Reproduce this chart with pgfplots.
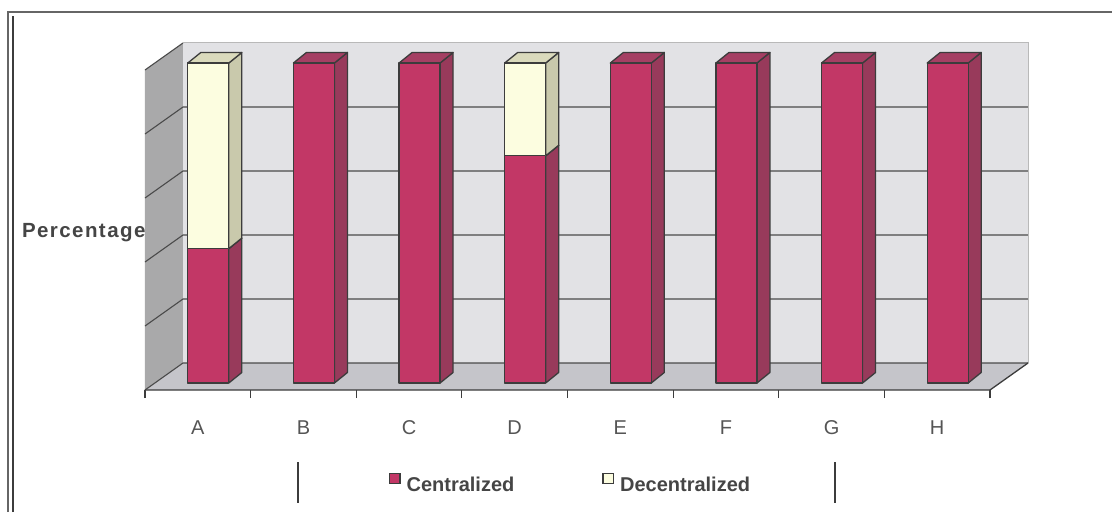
\documentclass[border=0pt]{standalone}
\usepackage{pgfplots}
\pgfplotsset{compat=1.18}
\usepackage{pgfplotstable}
\usepackage{fontspec}
\setmainfont{Liberation Sans}
\newfontfamily\spacedbold[LetterSpace=7]{Liberation Sans Bold}

\definecolor{cenfront}{HTML}{C23766}
\definecolor{censide}{HTML}{983A5B}
\definecolor{centop}{HTML}{A53F63}
\definecolor{decfront}{HTML}{FCFDE0}
\definecolor{decside}{HTML}{C9C9AC}
\definecolor{dectop}{HTML}{DADABC}
\definecolor{edge}{HTML}{3C3C3C}
\definecolor{backwall}{HTML}{E2E2E5}
\definecolor{sidewall}{HTML}{A9A9AA}
\definecolor{floorgray}{HTML}{C5C5CA}
\definecolor{gridgray}{HTML}{4A4A4A}
\definecolor{labelgray}{HTML}{555555}
\definecolor{legendgray}{HTML}{454545}

% centralized share per case (percent), bars start on the floor
\pgfplotstableread{
x base h
0 0 42
1 0 100
2 0 100
3 0 71
4 0 100
5 0 100
6 0 100
7 0 100
}\centralized

% decentralized share, stacked on top of the centralized part
\pgfplotstableread{
x base h
0 42 58
3 71 29
}\decentralized

\tikzset{
  bar colors/.style n args={3}{
    /tikz/front face/.style={fill=#1, draw=edge, line width=1.3pt, line join=round},
    /tikz/side face/.style={fill=#2, draw=edge, line width=1.3pt, line join=round},
    /tikz/top face/.style={fill=#3, draw=edge, line width=1.3pt, line join=round},
  },
}

% a bar segment drawn as a box: front face 41pt wide, set 10.5pt/7pt into
% the floor, receding 13pt right and 10.5pt up; height \boxh in y units
\pgfdeclareplotmark{bar3d}{%
  \path[side face] (31pt,7pt) -- ++(13pt,10.5pt)
    -- ([shift={(44pt,17.5pt)}]axis direction cs:0,\boxh)
    -- ([shift={(31pt,7pt)}]axis direction cs:0,\boxh) -- cycle;
  \path[top face] ([shift={(-10pt,7pt)}]axis direction cs:0,\boxh)
    -- ++(41pt,0pt) -- ++(13pt,10.5pt) -- ++(-41pt,0pt) -- cycle;
  \path[front face] (-10pt,7pt) rectangle ([shift={(31pt,7pt)}]axis direction cs:0,\boxh);
}

\begin{document}
\begin{tikzpicture}[x=1pt,y=1pt]
\useasboundingbox (-145,-122) rectangle (967,390);
\begin{axis}[
  at={(0,0)}, anchor=south west,
  scale only axis, width=845pt, height=320pt,
  xmin=-0.5, xmax=7.5, ymin=0, ymax=100,
  clip=false,
  axis line style={draw=none},
  ytick=\empty,
  xtick={0,...,7}, xticklabels={A,B,C,D,E,F,G,H},
  major tick length=0pt,
  minor xtick={-0.5,0.5,...,7.5},
  minor tick length=8pt, tick align=outside, xtick pos=left,
  minor tick style={draw=edge, line width=1.2pt},
  xticklabel style={font=\fontsize{20}{24}\selectfont, text=labelgray,
    inner sep=0pt, text height=14.4pt, text depth=0pt, anchor=north, yshift=-30pt},
  legend columns=2,
  legend style={draw=none, fill=none, at={(0.5024,-0.2906)}, anchor=center,
    font=\bfseries\fontsize{20}{24}\selectfont, text=legendgray,
    nodes={inner sep=0pt}, column sep=6pt,
    /tikz/every even column/.append style={column sep=88pt}},
]
% back wall, side wall and floor
\fill[backwall] ([shift={(38pt,27pt)}]axis cs:-0.5,0) rectangle ([shift={(38pt,27pt)}]axis cs:7.5,100);
\fill[sidewall] (axis cs:-0.5,0) -- (axis cs:-0.5,100) -- ([shift={(38pt,27pt)}]axis cs:-0.5,100)
  -- ([shift={(38pt,27pt)}]axis cs:-0.5,0) -- cycle;
\fill[floorgray] (axis cs:-0.5,0) -- (axis cs:7.5,0) -- ([shift={(38pt,27pt)}]axis cs:7.5,0)
  -- ([shift={(38pt,27pt)}]axis cs:-0.5,0) -- cycle;
% grid lines on side and back wall
\pgfplotsinvokeforeach{20,40,60,80}{
  \draw[gridgray, line width=1.1pt] (axis cs:-0.5,#1) -- ([shift={(38pt,27pt)}]axis cs:-0.5,#1)
    -- ([shift={(38pt,27pt)}]axis cs:7.5,#1);
}
\draw[gray!55, line width=1pt] ([shift={(38pt,27pt)}]axis cs:-0.5,100) -- ([shift={(38pt,27pt)}]axis cs:7.5,100)
  -- ([shift={(38pt,27pt)}]axis cs:7.5,0);
\draw[gridgray, line width=1.1pt] (axis cs:-0.5,100) -- ([shift={(38pt,27pt)}]axis cs:-0.5,100);
\draw[gridgray, line width=1.1pt] (axis cs:-0.5,0) -- ([shift={(38pt,27pt)}]axis cs:-0.5,0)
  -- ([shift={(38pt,27pt)}]axis cs:7.5,0);
\draw[edge, line width=1.3pt] (axis cs:-0.5,0) -- (axis cs:7.5,0) -- ([shift={(38pt,27pt)}]axis cs:7.5,0);

\addplot[only marks, mark=bar3d,
  mark options={/tikz/bar colors={cenfront}{censide}{centop}},
  visualization depends on={\thisrow{h} \as \boxh},
  legend image code/.code={\draw[fill=cenfront, draw=edge, line width=1.2pt] (0pt,1.5pt) rectangle (10.5pt,12pt);}]
  table[x=x, y=base] {\centralized};
\addlegendentry{Centralized}
\addplot[only marks, mark=bar3d,
  mark options={/tikz/bar colors={decfront}{decside}{dectop}},
  visualization depends on={\thisrow{h} \as \boxh},
  legend image code/.code={\draw[fill=decfront, draw=edge, line width=1.2pt] (0pt,1.5pt) rectangle (10.5pt,12pt);}]
  table[x=x, y=base] {\decentralized};
\addlegendentry{Decentralized}

\node[anchor=base east, text=legendgray, font=\spacedbold\fontsize{20.5}{24}\selectfont]
  at ([xshift=4pt]axis cs:-0.5,47.8) {Percentage};
% side rules of the legend box
\draw[edge, line width=1.2pt] (axis description cs:0.181,-0.225) -- (axis description cs:0.181,-0.353);
\draw[edge, line width=1.2pt] (axis description cs:0.8166,-0.225) -- (axis description cs:0.8166,-0.353);
\end{axis}
% chart frame
\draw[gray!80!black, line width=1.4pt] (-137,-122) -- (-137,378) -- (967,378);
\draw[edge, line width=1.2pt] (-132,-122) -- (-132,374);
\end{tikzpicture}
\end{document}
